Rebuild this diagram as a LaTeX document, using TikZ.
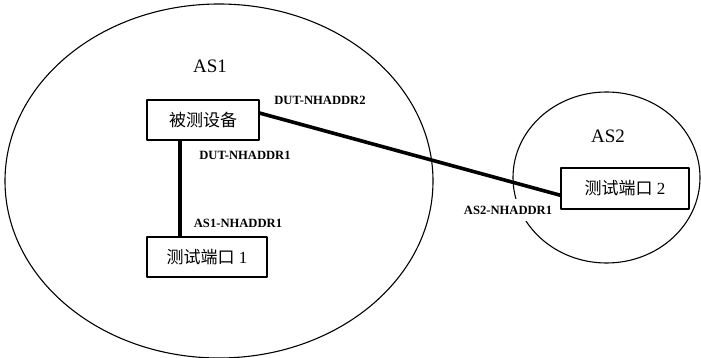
\documentclass[tikz,border=0pt]{standalone}
\usepackage{fontspec}
\setmainfont{Liberation Serif}
\newfontfamily\cjk{Noto Sans CJK SC}
\usetikzlibrary{shapes.geometric}
\begin{document}
\begin{tikzpicture}[x=1pt,y=-1pt, line join=round,
  region/.style={ellipse, draw, line width=1.1pt, inner sep=0pt},
  box/.style={draw, line width=1.2pt, inner sep=0pt, font=\fontsize{17}{20}\selectfont},
  link/.style={line width=3.6pt},
  addr/.style={font=\bfseries\fontsize{12.6}{14}\selectfont, inner sep=1pt},
  asname/.style={font=\fontsize{19}{22}\selectfont}]
\useasboundingbox[fill=white] (0,0) rectangle (701,358);
\node[region, minimum width=428pt, minimum height=354pt] (as1) at (219,181) {};
\node[region, minimum width=187pt, minimum height=171pt] (as2) at (606.5,177.5) {};
\node[box, fill=white, minimum width=112pt, minimum height=40pt] (dut) at (203,120) {\cjk 被测设备};
\node[box, fill=white, minimum width=120pt, minimum height=40pt] (p1) at (207,257) {{\cjk 测试端口} 1};
\node[box, fill=white, minimum width=128pt, minimum height=41pt] (p2) at (625,188.5) {{\cjk 测试端口} 2};
\node[asname] (as1name) at (210,66) {AS1};
\node[asname] (as2name) at (608,136) {AS2};
\node[addr] (l1) at (320,100) {DUT-NHADDR2};
\node[addr] (l2) at (245,155) {DUT-NHADDR1};
\node[addr] (l3) at (238,223) {AS1-NHADDR1};
\node[addr, fill=white, inner xsep=3pt, inner ysep=7pt] (l4) at (508,210) {AS2-NHADDR1};
\coordinate (vx) at (180,0);
\draw[link] (dut.south -| vx) -- (p1.north -| vx);
\draw[link] (dut.7) -- (p2.186);
\end{tikzpicture}
\end{document}
